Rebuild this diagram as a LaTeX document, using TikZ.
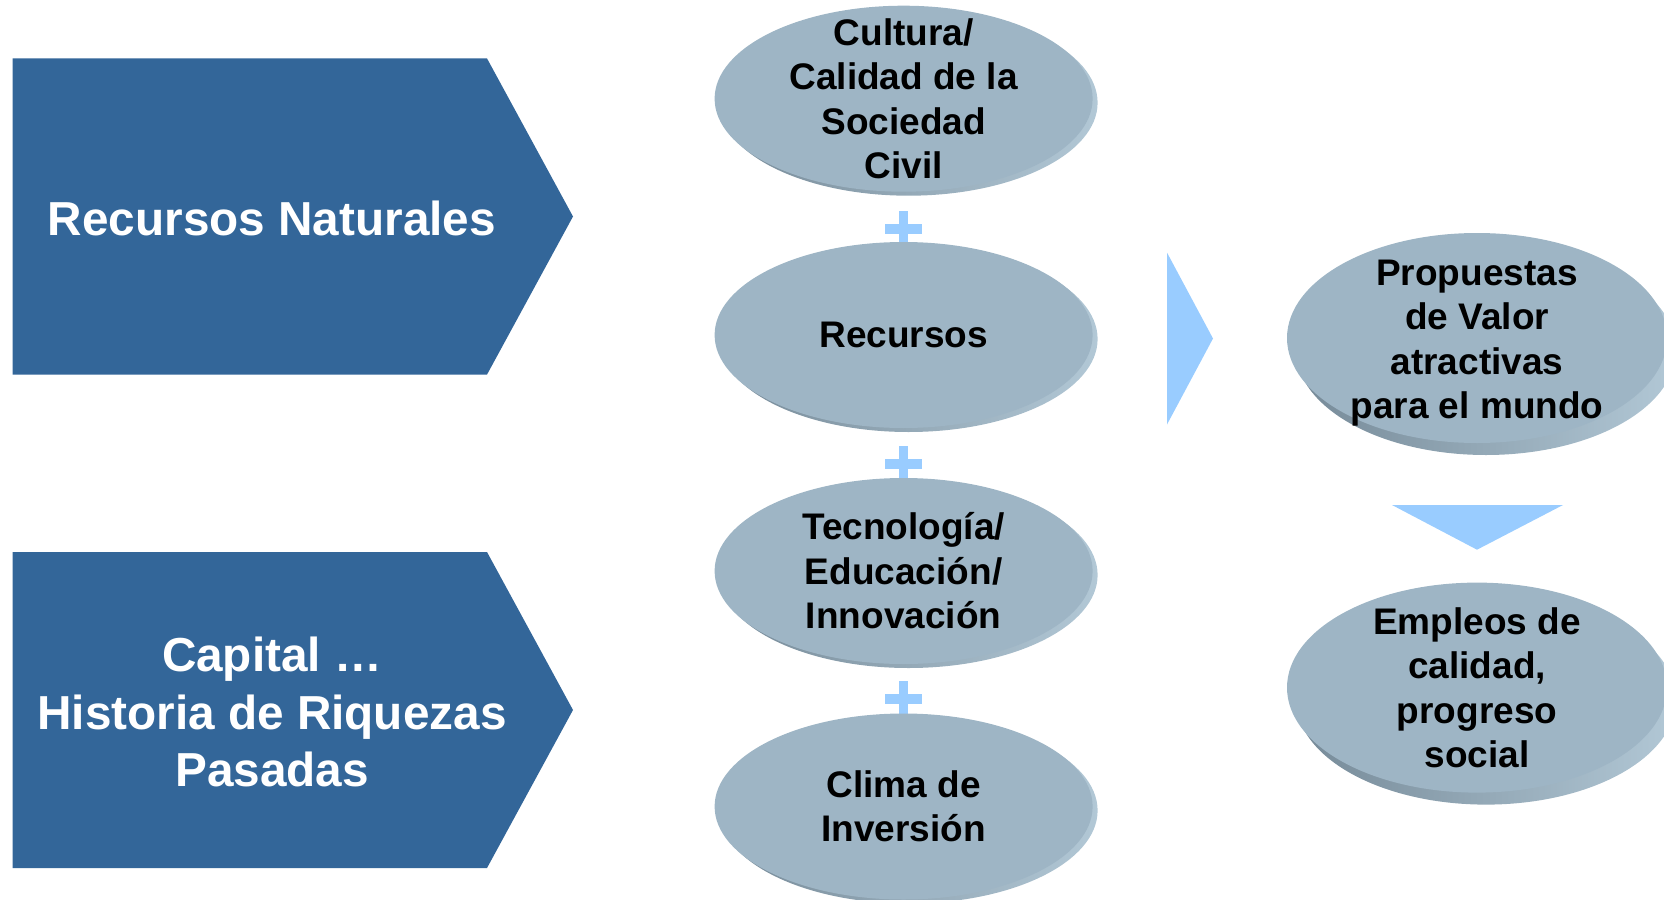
\documentclass[tikz,border=0pt]{standalone}
\usepackage{fontspec}
\setmainfont{Liberation Sans}
\definecolor{pentablue}{RGB}{51,102,153}
\definecolor{ellfill}{RGB}{158,181,197}
\definecolor{shdark}{RGB}{118,138,152}
\definecolor{shlight}{RGB}{178,200,214}
\definecolor{accent}{RGB}{153,204,255}
\newcommand\myellipse[9]{%
  \shade[left color=shdark,right color=shlight] (#2+#6,#3+#7) ellipse [x radius=#4, y radius=#5];
  \fill[ellfill] (#2,#3) ellipse [x radius=#4, y radius=#5];
  \node[elltext] (#1) at (#2,#3+#8) {#9};}
\newcommand\myplus[3]{%
  \fill[accent] (#2-18.5,#3-5) rectangle (#2+18.5,#3+5);
  \fill[accent] (#2-4.5,#3-18) rectangle (#2+4.5,#3+18);
  \coordinate (#1) at (#2,#3);}
\tikzset{
  elltext/.style={align=center,inner sep=0pt,text=black,font=\fontsize{37}{44.5}\selectfont\bfseries},
  pentatext/.style={align=center,inner sep=0pt,text=white,font=\fontsize{47.7}{57.3}\selectfont\bfseries},
  penta/.style={fill=pentablue},
  tri/.style={fill=accent}
}
\begin{document}
\begin{tikzpicture}[x=1pt,y=-1pt]
\useasboundingbox (0,0) rectangle (1664,899);
\clip (0,0) rectangle (1664,899);
% pentagons
\fill[penta] (12.7,58.4) -- (487,58.4) -- (573,216.5) -- (487,374.6) -- (12.7,374.6) -- cycle;
\node[pentatext] (rn) at (272,218) {Recursos Naturales};
\fill[penta] (12.7,552) -- (487,552) -- (573,710) -- (487,868) -- (12.7,868) -- cycle;
\node[pentatext] (cap) at (272,712) {Capital …\\Historia de Riquezas\\Pasadas};
% plus signs
\myplus{p1}{903.6}{229}
\myplus{p2}{903.6}{464}
\myplus{p3}{903.6}{699}
% column ellipses
\myellipse{cult}{903.6}{98.7}{189}{93}{5}{4}{0}{Cultura/\\Calidad de la\\Sociedad\\Civil}
\myellipse{rec}{903.6}{335}{189}{93}{5}{4}{0}{Recursos}
\myellipse{tec}{903.6}{571}{189}{93}{5}{4}{0}{Tecnología/\\Educación/\\Innovación}
\myellipse{clima}{903.6}{806.5}{189}{93}{5}{4}{0}{Clima de\\Inversión}
% arrows
\fill[tri] (1167,252.6) -- (1213,338.5) -- (1167,424.5) -- cycle;
\fill[tri] (1392,505) -- (1563,505) -- (1477,549.7) -- cycle;
% right ellipses
\myellipse{prop}{1477}{338}{190}{105}{9}{12}{5}{Propuestas\\de Valor\\atractivas\\para el mundo}
\myellipse{emp}{1477}{687.6}{190}{105}{9}{12}{0}{Empleos de\\calidad,\\progreso\\social}
\end{tikzpicture}
\end{document}
